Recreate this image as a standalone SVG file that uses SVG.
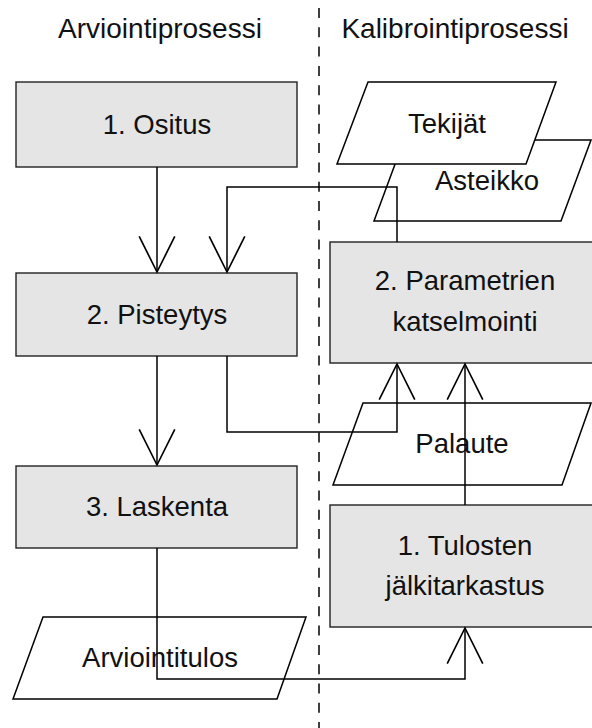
<svg xmlns="http://www.w3.org/2000/svg" width="592" height="728" viewBox="0 0 592 728">
  <defs>
    <marker id="arr" markerUnits="userSpaceOnUse" markerWidth="40" markerHeight="40" viewBox="-34 -18 36 36" refX="0" refY="0" orient="auto" overflow="visible">
      <path d="M-32,-16 L0,0 L-32,16" fill="none" stroke="#000" stroke-width="1.5"/>
    </marker>
    <style>
      .box { fill: #e5e5e5; stroke: #222; stroke-width: 1.4; }
      .io { fill: #fff; stroke: #000; stroke-width: 1.5; }
      .t { font-family: "Liberation Sans", Arial, sans-serif; font-size: 27.5px; fill: #111; text-anchor: middle; }
      .title { font-size: 28px; }
      .con { fill: none; stroke: #000; stroke-width: 1.5; }
    </style>
  </defs>
  <rect width="592" height="728" fill="#fff"/>
  <line x1="319" y1="8" x2="319" y2="728" stroke="#000" stroke-width="1.5" stroke-dasharray="10 9.3"/>
  <text class="t title" x="160" y="38">Arviointiprosessi</text>
  <text class="t title" x="455" y="38">Kalibrointiprosessi</text>

  <g id="ositus">
    <rect class="box" x="16" y="82" width="281" height="85"/>
    <text class="t" x="157" y="134">1. Ositus</text>
  </g>
  <g id="pisteytys">
    <rect class="box" x="16" y="273" width="281" height="83"/>
    <text class="t" x="157" y="324">2. Pisteytys</text>
  </g>
  <g id="laskenta">
    <rect class="box" x="16" y="466" width="281" height="82"/>
    <text class="t" x="157" y="516">3. Laskenta</text>
  </g>
  <g id="arviointitulos">
    <polygon class="io" points="43,617 306,617 277,699 13,699"/>
    <text class="t" x="160" y="667">Arviointitulos</text>
  </g>
  <g id="asteikko">
    <polygon class="io" points="404,140 591,140 561,221 374,221"/>
    <text class="t" x="487" y="190">Asteikko</text>
  </g>
  <g id="tekijat">
    <polygon class="io" points="368,82 556,82 526,164 337,164"/>
    <text class="t" x="447" y="133">Tekijät</text>
  </g>
  <g id="parametrien">
    <rect class="box" x="330" y="242" width="270" height="121"/>
    <text class="t" x="465" y="290">2. Parametrien</text>
    <text class="t" x="465" y="331">katselmointi</text>
  </g>
  <g id="palaute">
    <polygon class="io" points="363,403 591,403 562,485 333,485"/>
    <text class="t" x="462" y="453">Palaute</text>
  </g>
  <g id="tulosten">
    <rect class="box" x="330" y="505" width="270" height="122"/>
    <text class="t" x="465" y="555">1. Tulosten</text>
    <text class="t" x="465" y="595">jälkitarkastus</text>
  </g>

  <g id="connectors">
    <path class="con" d="M157,167 V272" marker-end="url(#arr)"/>
    <path class="con" d="M397,242 V187 H227 V272" marker-end="url(#arr)"/>
    <path class="con" d="M157,356 V465" marker-end="url(#arr)"/>
    <path class="con" d="M227,356 V432 H397 V364" marker-end="url(#arr)"/>
    <path class="con" d="M465,505 V364" marker-end="url(#arr)"/>
    <path class="con" d="M157,548 V679 H465 V628" marker-end="url(#arr)"/>
  </g>
</svg>
